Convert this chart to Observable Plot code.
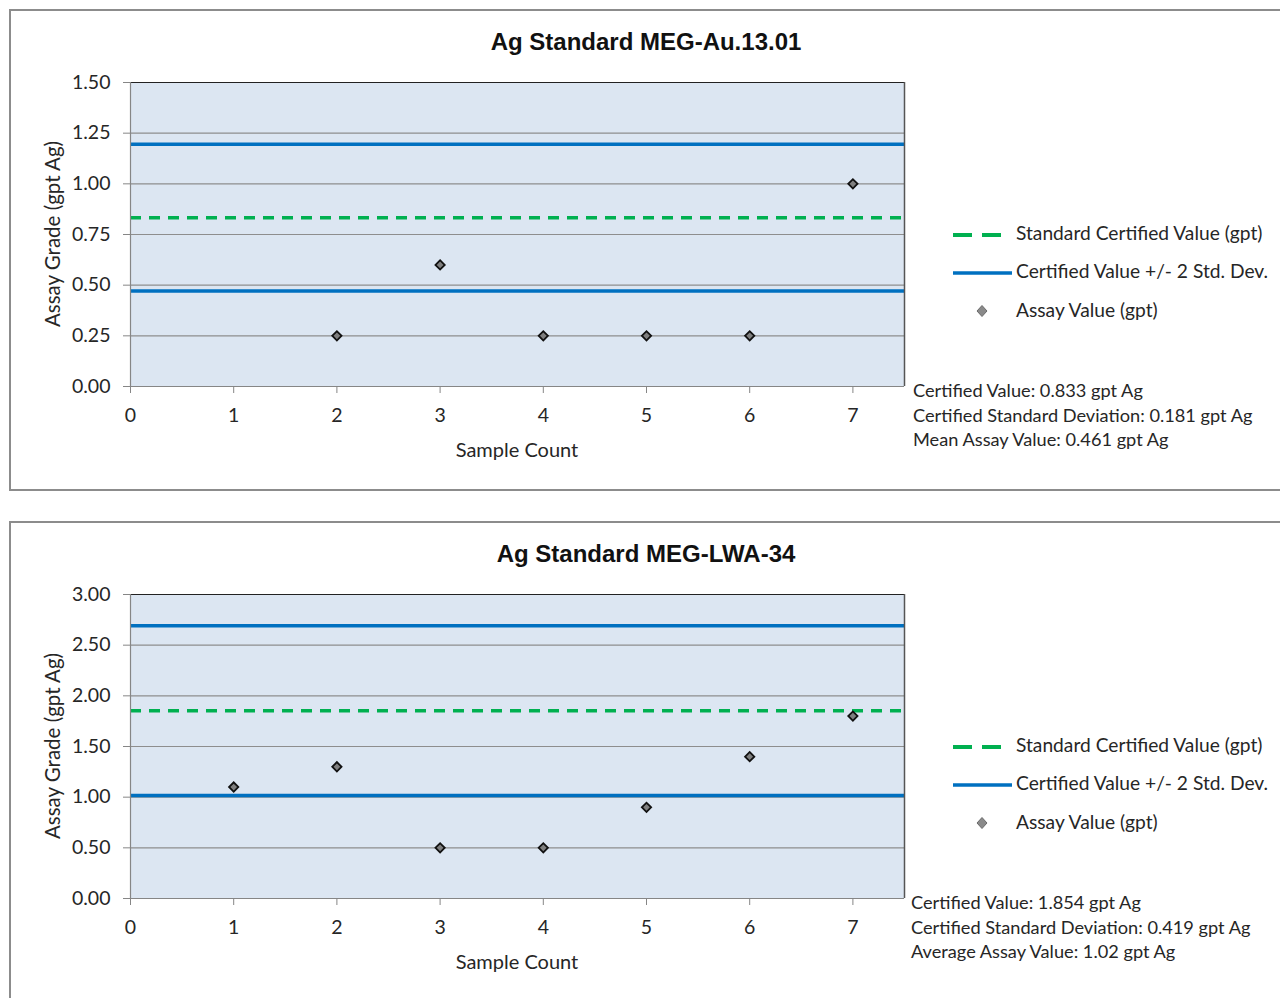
<!DOCTYPE html>
<html>
<head>
<meta charset="utf-8">
<script src="https://cdn.jsdelivr.net/npm/d3@7"></script>
<script src="https://cdn.jsdelivr.net/npm/@observablehq/plot@0.6"></script>
<style>
  html, body { margin: 0; padding: 0; background: #fff; overflow: hidden; width: 1280px; height: 998px; }
  .wrap { position: absolute; left: 0; width: 1280px; height: 500px; font-family: Lato, "Noto Sans", sans-serif; color: #262626; }
  .panel { position: absolute; left: 9px; top: 9px; width: 1280px; height: 478px; border: 2px solid #8c8c8c; box-sizing: content-box; }
  .title { position: absolute; left: 130px; width: 1032px; top: 27px; text-align: center; font-family: "Liberation Sans", Arial, sans-serif; font-weight: bold; font-size: 24px; color: #111; line-height: 30px; }
  .ylab { position: absolute; left: 52px; top: 234px; transform: translate(-50%, -50%) rotate(-90deg); white-space: nowrap; font-size: 20.5px; line-height: 22px; }
  .xlab { position: absolute; left: 517px; top: 437px; transform: translateX(-50%); white-space: nowrap; font-size: 20px; line-height: 24px; }
  .leg { position: absolute; left: 1016px; font-size: 19.2px; line-height: 22px; white-space: nowrap; }
  .stats { position: absolute; left: 913px; top: 378px; font-size: 18.2px; line-height: 24.5px; white-space: nowrap; }
  svg.sw { position: absolute; left: 940px; top: 215px; }
</style>
</head>
<body>
<script>
// ---- data ----
const xTicks = [0, 1, 2, 3, 4, 5, 6, 7];

const titleA = "Ag Standard MEG-Au.13.01";
const sampleA = [2, 3, 4, 5, 6, 7];
const assayA = [0.25, 0.60, 0.25, 0.25, 0.25, 1.00];
const certA = [0.833];
const limitsA = [0.471, 1.195];
const yTicksA = [0, 0.25, 0.5, 0.75, 1.0, 1.25, 1.5];
const statsA = ["Certified Value: 0.833 gpt Ag", "Certified Standard Deviation: 0.181 gpt Ag", "Mean Assay Value: 0.461 gpt Ag"];

const titleB = "Ag Standard MEG-LWA-34";
const sampleB = [1, 2, 3, 4, 5, 6, 7];
const assayB = [1.10, 1.30, 0.50, 0.50, 0.90, 1.40, 1.80];
const certB = [1.854];
const limitsB = [1.016, 2.692];
const yTicksB = [0, 0.5, 1.0, 1.5, 2.0, 2.5, 3.0];
const statsB = ["Certified Value: 1.854 gpt Ag", "Certified Standard Deviation: 0.419 gpt Ag", "Average Assay Value: 1.02 gpt Ag"];

const legendLabels = ["Standard Certified Value (gpt)", "Certified Value +/- 2 Std. Dev.", "Assay Value (gpt)"];

function panel(top, title, xs, ys, cert, limits, yTicks, stats, statsLeft) {
  const wrap = document.createElement("div");
  wrap.className = "wrap";
  wrap.style.top = top + "px";
  document.body.appendChild(wrap);

  const p = document.createElement("div"); p.className = "panel"; wrap.appendChild(p);
  const t = document.createElement("div"); t.className = "title"; t.textContent = title; wrap.appendChild(t);
  const yl = document.createElement("div"); yl.className = "ylab"; yl.textContent = "Assay Grade (gpt Ag)"; wrap.appendChild(yl);
  const xl = document.createElement("div"); xl.className = "xlab"; xl.textContent = "Sample Count"; wrap.appendChild(xl);

  const data = xs.map((x, i) => ({x, y: ys[i]}));
  const yMax = yTicks[yTicks.length - 1];
  const chart = Plot.plot({
    width: 920, height: 410,
    marginLeft: 130, marginRight: 16, marginTop: 22, marginBottom: 84,
    x: {domain: [0, 7.5]},
    y: {domain: [0, yMax]},
    style: {fontFamily: "Lato, 'Noto Sans', sans-serif", fontSize: "19.5px", background: "transparent", overflow: "visible"},
    marks: [
      Plot.frame({fill: "#dce6f2", stroke: null}),
      Plot.gridY(yTicks, {stroke: "#8e8e8e", strokeOpacity: 1, strokeWidth: 1.2}),
      Plot.ruleY(limits, {stroke: "#0070c0", strokeWidth: 3.5}),
      Plot.ruleY(cert, {stroke: "#00b050", strokeWidth: 3.5, strokeDasharray: "11,8"}),
      Plot.ruleY([yMax], {stroke: "#222", strokeWidth: 1.2}),
      Plot.ruleX([7.5], {stroke: "#555", strokeWidth: 1.5}),
      Plot.ruleX([0], {stroke: "#868686", strokeWidth: 1.2}),
      Plot.ruleY([0], {stroke: "#868686", strokeWidth: 1.2}),
      Plot.dot(data, {x: "x", y: "y", symbol: "square", rotate: 45, r: 3.7, fill: "#7f7f7f", stroke: "#111", strokeWidth: 1.8}),
      Plot.axisY(yTicks, {tickFormat: d3.format(".2f"), tickSize: 7, tickPadding: 13, stroke: "#868686", fill: "#262626", label: null}),
      Plot.axisX(xTicks, {tickSize: 7, tickPadding: 15, stroke: "#868686", fill: "#262626", label: null})
    ]
  });
  chart.style.position = "absolute";
  chart.style.left = "0px";
  chart.style.top = "60px";
  wrap.appendChild(chart);

  // legend swatches
  const ns = "http://www.w3.org/2000/svg";
  const sw = document.createElementNS(ns, "svg");
  sw.setAttribute("class", "sw"); sw.setAttribute("width", "80"); sw.setAttribute("height", "110");
  sw.innerHTML =
    '<line x1="13" x2="61" y1="20" y2="20" stroke="#00b050" stroke-width="4" stroke-dasharray="19,10"/>' +
    '<line x1="13" x2="72" y1="58" y2="58" stroke="#0070c0" stroke-width="3.5"/>' +
    '<path d="M42,90.5 L47,96 L42,101.5 L37,96 Z" fill="#8a8a8a" stroke="#6a6a6a" stroke-width="1"/>';
  wrap.appendChild(sw);

  const tops = [222, 260, 299];
  legendLabels.forEach((s, i) => {
    const d = document.createElement("div"); d.className = "leg"; d.style.top = tops[i] + "px"; d.textContent = s; wrap.appendChild(d);
  });

  const st = document.createElement("div"); st.className = "stats"; st.style.left = statsLeft + "px";
  st.innerHTML = stats.join("<br>");
  wrap.appendChild(st);
}

panel(0, titleA, sampleA, assayA, certA, limitsA, yTicksA, statsA, 913);
panel(512, titleB, sampleB, assayB, certB, limitsB, yTicksB, statsB, 911);
</script>
</body>
</html>
